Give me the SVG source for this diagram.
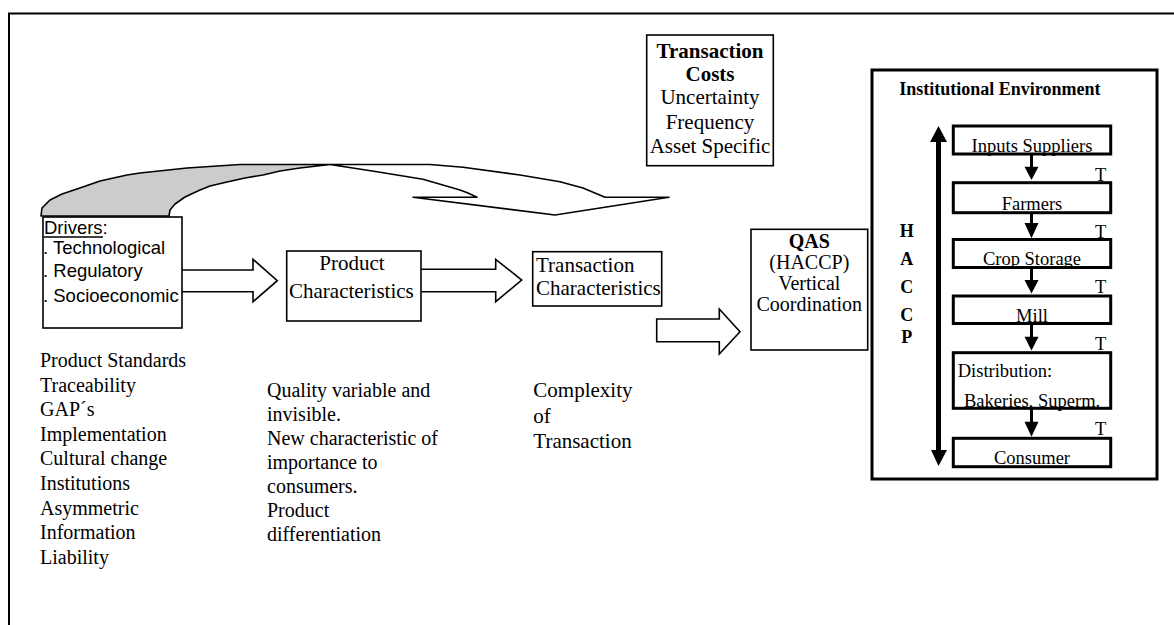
<svg xmlns="http://www.w3.org/2000/svg" width="1174" height="625" viewBox="0 0 1174 625">
<style>
.serif{font-family:"Liberation Serif","Times New Roman",serif;fill:#000}
.sans{font-family:"Liberation Sans",Arial,sans-serif;fill:#000}
.box{fill:#fff;stroke:#000;stroke-width:1.6}
.thick{fill:#fff;stroke:#000;stroke-width:3}
.conn{fill:#fff;stroke:#000;stroke-width:1.6;stroke-linejoin:miter}
.b{font-weight:bold}
.mid{text-anchor:middle}
</style>
<rect width="1174" height="625" fill="#fff"/>
<g id="frame"><path d="M9,625 V13.5 H1174" fill="none" stroke="#000" stroke-width="2"/></g>

<g id="connectors">
  <path d="M41,216 L42,208 L50,200 L62,194 L77,189 L100,181 L127,175 L140,173 L187,168 L240,164.5 L330,164.5 L300,168 L280,171 L263,175 L245,178 L227,182 L210,186 L200,190 L185,197 L175,204 L170,210 L169,216 Z" fill="#cccccc" stroke="#000" stroke-width="1.6" stroke-linejoin="round"/>
  <path d="M330,164.5 L430,164.5 L463,167.3 L520,175 L560,181.7 L583,188 L605,197.3 L669,197.3 L555,215 L413,197.3 L477,197.3 L468,193 L460,190 L423,179.3 L377,171.7 Z" fill="#fff" stroke="#000" stroke-width="1.6" stroke-linejoin="round"/>
  <path class="conn" d="M181,270 H253 V259.3 L277.3,280.7 L253,301.7 V291.7 H181"/>
  <path class="conn" d="M421,269.3 H495.7 V259.3 L521.7,280 L495.7,301.7 V291.7 H421"/>
  <path class="conn" d="M656.7,319 H719.3 V309 L740,331.7 L719.3,354 V341.7 H656.7 Z"/>
</g>

<g id="drivers">
  <rect class="box" x="43" y="217" width="139" height="111" stroke-width="2"/>
  <text class="sans" x="44" y="234.3" font-size="18.5">Drivers:</text>
  <line x1="44" y1="237" x2="103" y2="237" stroke="#000" stroke-width="1.6"/>
  <text class="sans" x="43" y="254.3" font-size="18.5">. Technological</text>
  <text class="sans" x="43" y="276.5" font-size="18.5">. Regulatory</text>
  <text class="sans" x="43" y="302" font-size="18.5">. Socioeconomic</text>
</g>

<g id="product">
  <rect class="box" x="286.7" y="251" width="134.3" height="70"/>
  <text class="serif mid" x="352" y="270" font-size="21">Product</text>
  <text class="serif" x="289" y="297.5" font-size="21">Characteristics</text>
</g>

<g id="transaction">
  <rect class="box" x="532.7" y="251.7" width="129" height="54.3"/>
  <text class="serif" x="536" y="271.7" font-size="21">Transaction</text>
  <text class="serif" x="536" y="295" font-size="21">Characteristics</text>
</g>

<g id="costs">
  <rect class="box" x="646.7" y="35" width="126.6" height="130.7"/>
  <text class="serif b mid" x="710" y="58" font-size="21">Transaction</text>
  <text class="serif b mid" x="710" y="80.5" font-size="21">Costs</text>
  <text class="serif mid" x="710" y="104.2" font-size="21">Uncertainty</text>
  <text class="serif mid" x="710" y="129.3" font-size="21">Frequency</text>
  <text class="serif mid" x="710" y="153.3" font-size="21">Asset Specific</text>
</g>

<g id="qas">
  <rect class="box" x="751" y="229.3" width="116.7" height="120.7"/>
  <text class="serif b mid" x="809.3" y="248" font-size="20">QAS</text>
  <text class="serif mid" x="809.3" y="269" font-size="20">(HACCP)</text>
  <text class="serif mid" x="809.3" y="290" font-size="20">Vertical</text>
  <text class="serif mid" x="809.3" y="311" font-size="20">Coordination</text>
</g>

<g id="notes-drivers">
  <text class="serif" x="40" y="367" font-size="20">Product  Standards</text>
  <text class="serif" x="40" y="391.7" font-size="20">Traceability</text>
  <text class="serif" x="40" y="416" font-size="20">GAP´s</text>
  <text class="serif" x="40" y="440.7" font-size="20">Implementation</text>
  <text class="serif" x="40" y="465" font-size="20">Cultural change</text>
  <text class="serif" x="40" y="490" font-size="20">Institutions</text>
  <text class="serif" x="40" y="515" font-size="20">Asymmetric</text>
  <text class="serif" x="40" y="539" font-size="20">Information</text>
  <text class="serif" x="40" y="564" font-size="20">Liability</text>
</g>

<g id="notes-product">
  <text class="serif" x="267" y="396.7" font-size="20">Quality variable and</text>
  <text class="serif" x="267" y="420.5" font-size="20">invisible.</text>
  <text class="serif" x="267" y="445" font-size="20">New characteristic of</text>
  <text class="serif" x="267" y="468.5" font-size="20">importance to</text>
  <text class="serif" x="267" y="493" font-size="20">consumers.</text>
  <text class="serif" x="267" y="517" font-size="20">Product</text>
  <text class="serif" x="267" y="540.5" font-size="20">differentiation</text>
</g>

<g id="notes-transaction">
  <text class="serif" x="533.3" y="396.7" font-size="21">Complexity</text>
  <text class="serif" x="533.3" y="422.7" font-size="21">of</text>
  <text class="serif" x="533.3" y="447.7" font-size="21">Transaction</text>
</g>

<g id="institutional">
  <rect class="thick" x="872" y="70" width="285" height="409"/>
  <text class="serif b" x="899.3" y="95" font-size="18">Institutional Environment</text>
  <g id="haccp-arrow">
    <line x1="938.5" y1="138" x2="938.5" y2="454" stroke="#000" stroke-width="5"/>
    <polygon points="930,142 947,142 938.5,126" fill="#000"/>
    <polygon points="931,450 947,450 938.5,466" fill="#000"/>
  </g>
  <text class="serif b mid" x="906.7" y="237" font-size="18">H</text>
  <text class="serif b mid" x="906.7" y="264.5" font-size="18">A</text>
  <text class="serif b mid" x="906.7" y="292.5" font-size="18">C</text>
  <text class="serif b mid" x="906.7" y="321" font-size="18">C</text>
  <text class="serif b mid" x="906.7" y="343" font-size="18">P</text>
</g>

<g id="chain-arrows">
  <g stroke="#000" stroke-width="3">
    <line x1="1031.5" y1="154" x2="1031.5" y2="168"/>
    <line x1="1031.5" y1="212.5" x2="1031.5" y2="225"/>
    <line x1="1031.5" y1="267.5" x2="1031.5" y2="281"/>
    <line x1="1031.5" y1="323.5" x2="1031.5" y2="338"/>
    <line x1="1031.5" y1="408.5" x2="1031.5" y2="423"/>
  </g>
  <polygon points="1024.5,166.7 1038.5,166.7 1031.5,180"/>
  <polygon points="1024.5,223 1038.5,223 1031.5,238.3"/>
  <polygon points="1024.5,280 1038.5,280 1031.5,293.5"/>
  <polygon points="1024.5,336.7 1038.5,336.7 1031.5,350.5"/>
  <polygon points="1024.5,421.7 1038.5,421.7 1031.5,436.7"/>
  <text class="serif" x="1095" y="180.7" font-size="18.5">T</text>
  <text class="serif" x="1095" y="238.3" font-size="18.5">T</text>
  <text class="serif" x="1095" y="293.3" font-size="18.5">T</text>
  <text class="serif" x="1095" y="350" font-size="18.5">T</text>
  <text class="serif" x="1095" y="435" font-size="18.5">T</text>
</g>

<g id="inputs">
  <rect class="thick" x="953.3" y="126" width="157.4" height="28"/>
  <text class="serif mid" x="1032" y="151.7" font-size="18.5">Inputs Suppliers</text>
</g>
<g id="farmers">
  <rect class="thick" x="953.3" y="182.7" width="157.4" height="30"/>
  <text class="serif mid" x="1032" y="210" font-size="18.5">Farmers</text>
</g>
<g id="crop">
  <rect class="thick" x="953.3" y="239.5" width="157.4" height="28"/>
  <text class="serif mid" x="1032" y="265" font-size="18.5">Crop Storage</text>
</g>
<g id="mill">
  <rect class="thick" x="953.3" y="296" width="157.4" height="27.5"/>
  <text class="serif mid" x="1032" y="321.7" font-size="18.5">Mill</text>
</g>
<g id="distribution">
  <rect class="thick" x="953.3" y="352.7" width="157.4" height="55.6"/>
  <text class="serif" x="957.7" y="377.3" font-size="18.5">Distribution:</text>
  <text class="serif" x="964" y="406.7" font-size="18.5">Bakeries, Superm.</text>
</g>
<g id="consumer">
  <rect class="thick" x="953.3" y="438.3" width="157.4" height="28.4"/>
  <text class="serif mid" x="1032" y="463.5" font-size="18.5">Consumer</text>
</g>
</svg>
